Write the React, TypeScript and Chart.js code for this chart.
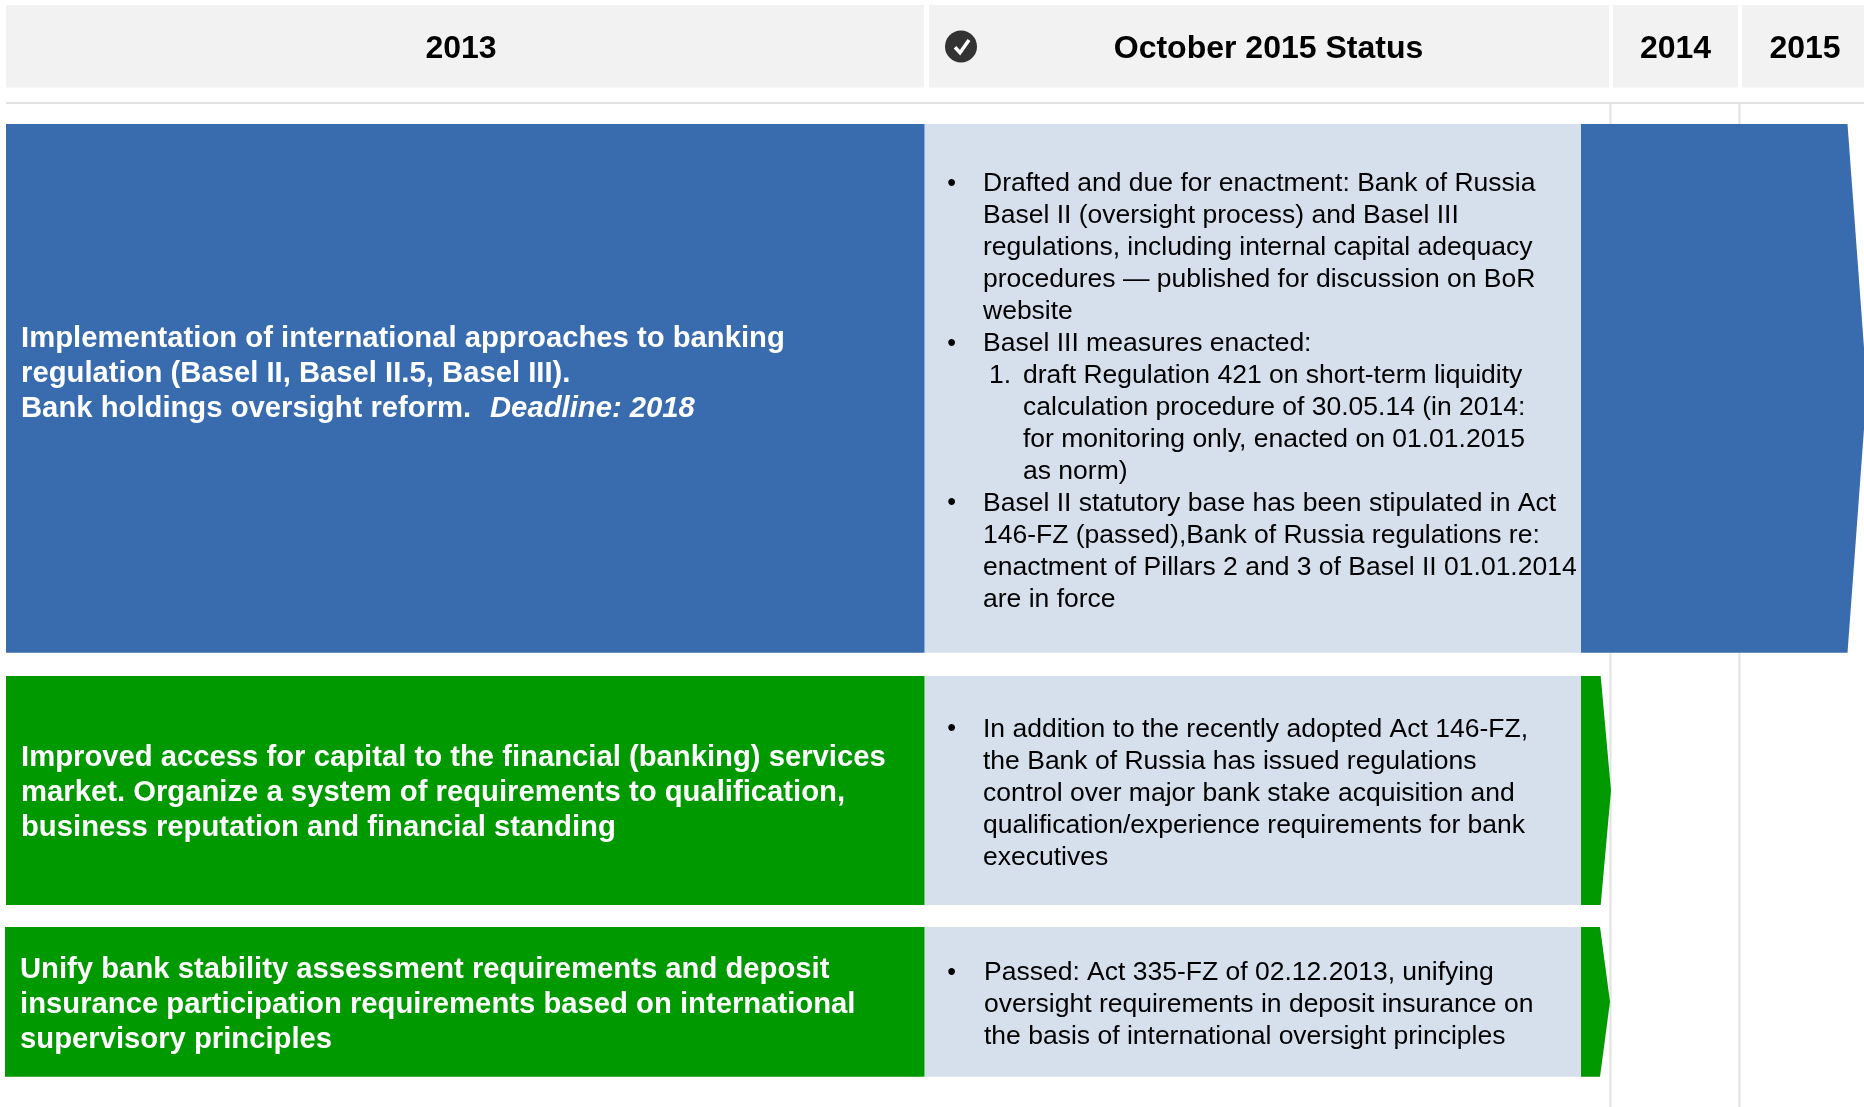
import React, { useEffect, useRef } from "react";
import { Chart, registerables } from "chart.js";

Chart.register(...registerables);

const WIDTH = 1864;
const HEIGHT = 1107;
const FONT = '"Liberation Sans", Arial, sans-serif';

// ---- Header labels and where they sit on the timeline axis
const columnLabels = ["2013", "October 2015 Status", "2014", "2015"];
const columnCenters = [461, 1268.5, 1675.5, 1805];
const headerStarts = [6, 929, 1613, 1742];
const headerEnds = [924, 1609, 1738, 1864];
const headerTop = 5;
const headerBottom = 87.5;

// ---- Rows: 2013 phase, status phase, then the chevron to the end of the plan
const rowTops = [124, 676, 927];
const rowBottoms = [652.7, 905, 1076.7];
const phase2013Starts = [6, 6, 5];
const phase2013Ends = [924.5, 924.5, 924.5];
const statusEnds = [1581, 1581, 1581];
const chevronShoulders = [1847.5, 1600.7, 1600];
const chevronTips = [1867, 1611, 1610];
const rowColors = ["#396CAE", "#009900", "#009900"];

// ---- Rules
const ruleY = 103;
const ruleStart = 6;
const yearDividers = [1610.5, 1739.5];
const checkMark = [
  [955, 47.3],
  [960, 52.7],
  [969, 40],
];
const checkCenter = [961, 46.5];

// ---- Text
const goalTexts = [
  [
    "Implementation of international approaches to banking",
    "regulation (Basel II, Basel II.5, Basel III).",
    "Bank holdings oversight reform.",
  ],
  [
    "Improved access for capital to the financial (banking) services",
    "market. Organize a system of requirements to qualification,",
    "business reputation and financial standing",
  ],
  [
    "Unify bank stability assessment requirements and deposit",
    "insurance participation requirements based on international",
    "supervisory principles",
  ],
];
const deadlineText = "Deadline: 2018";
const goalFirstLineY = [339, 757.5, 969.5];
const goalX = [21, 21, 20];

const statusTexts: [string, string][][] = [
  [
    ["b", "Drafted and due for enactment: Bank of Russia"],
    ["", "Basel II (oversight process) and Basel III"],
    ["", "regulations, including internal capital adequacy"],
    ["", "procedures \u2014 published for discussion on BoR"],
    ["", "website"],
    ["b", "Basel III measures enacted:"],
    ["n", "draft Regulation 421 on short-term liquidity"],
    ["s", "calculation procedure of 30.05.14 (in 2014:"],
    ["s", "for monitoring only, enacted on 01.01.2015"],
    ["s", "as norm)"],
    ["b", "Basel II statutory base has been stipulated in Act"],
    ["", "146-FZ (passed),Bank of Russia regulations re:"],
    ["", "enactment of Pillars 2 and 3 of Basel II 01.01.2014"],
    ["", "are in force"],
  ],
  [
    ["b", "In addition to the recently adopted Act 146-FZ,"],
    ["", "the Bank of Russia has issued regulations"],
    ["", "control over major bank stake acquisition and"],
    ["", "qualification/experience requirements for bank"],
    ["", "executives"],
  ],
  [
    ["b", "Passed: Act 335-FZ of 02.12.2013, unifying"],
    ["", "oversight requirements in deposit insurance on"],
    ["", "the basis of international oversight principles"],
  ],
];
const statusFirstLineY = [184, 729.5, 973];

const rect = (x0: number, x1: number, y0: number, y1: number) => [
  { x: x0, y: y0 },
  { x: x1, y: y0 },
  { x: x1, y: y1 },
  { x: x0, y: y1 },
];

const shape = (data: any[], color: string, order: number) => ({
  type: "line" as const,
  data,
  fill: "shape",
  backgroundColor: color,
  borderWidth: 0,
  pointRadius: 0,
  tension: 0,
  order,
  clip: false,
});

const stroke = (data: any[], color: string, width: number, order: number) => ({
  type: "line" as const,
  data,
  fill: false,
  borderColor: color,
  borderWidth: width,
  pointRadius: 0,
  tension: 0,
  order,
  clip: false,
});

const textPlugin = {
  id: "rowText",
  afterDatasetsDraw(chart: any) {
    const { ctx, scales } = chart;
    const px = (v: number) => scales.x.getPixelForValue(v);
    const py = (v: number) => scales.y.getPixelForValue(v);
    ctx.save();
    ctx.textBaseline = "middle";
    ctx.textAlign = "left";

    ctx.fillStyle = "#FFFFFF";
    goalTexts.forEach((lines, r) => {
      lines.forEach((line, i) => {
        ctx.font = `bold 29.25px ${FONT}`;
        const y = py(goalFirstLineY[r] + i * 35);
        ctx.fillText(line, px(goalX[r]), y);
        if (r === 0 && i === 2) {
          ctx.font = `italic bold 29.25px ${FONT}`;
          ctx.fillText(deadlineText, px(490), y);
        }
      });
    });

    ctx.fillStyle = "#000000";
    statusTexts.forEach((lines, r) => {
      lines.forEach(([kind, line], i) => {
        const y = py(statusFirstLineY[r] + i * 31.95);
        const offset = r === 2 ? 1 : 0;
        ctx.font = `25px ${FONT}`;
        if (kind === "b") ctx.fillText("\u2022", px(947.3), y);
        ctx.font = `26.5px ${FONT}`;
        if (kind === "n") ctx.fillText("1.", px(989), y);
        const x = kind === "n" || kind === "s" ? 1023 : 983 + offset;
        ctx.fillText(line, px(x), y);
      });
    });
    ctx.restore();
  },
};

export default function App() {
  const ref = useRef<HTMLCanvasElement | null>(null);

  useEffect(() => {
    if (!ref.current) return;
    const datasets: any[] = [];

    columnLabels.forEach((_, i) => {
      datasets.push(shape(rect(headerStarts[i], headerEnds[i], headerTop, headerBottom), "#F2F2F2", 40));
    });
    datasets.push(stroke([{ x: ruleStart, y: ruleY }, { x: WIDTH, y: ruleY }], "#E2E2E2", 2, 35));
    yearDividers.forEach((x) => {
      datasets.push(stroke([{ x, y: ruleY }, { x, y: HEIGHT }], "#E2E2E2", 2, 35));
    });

    rowTops.forEach((top, r) => {
      const bottom = rowBottoms[r];
      const mid = (top + bottom) / 2;
      datasets.push(shape(rect(phase2013Starts[r], phase2013Ends[r], top, bottom), rowColors[r], 20));
      datasets.push(shape(rect(phase2013Ends[r], statusEnds[r], top, bottom), "#D6E0ED", 20));
      datasets.push(
        shape(
          [
            { x: statusEnds[r], y: top },
            { x: chevronShoulders[r], y: top },
            { x: chevronTips[r], y: mid },
            { x: chevronShoulders[r], y: bottom },
            { x: statusEnds[r], y: bottom },
          ],
          rowColors[r],
          20
        )
      );
    });

    datasets.push(stroke(checkMark.map(([x, y]) => ({ x, y })), "#FFFFFF", 3.5, 5));
    datasets.push({
      type: "scatter",
      data: [{ x: checkCenter[0], y: checkCenter[1] }],
      backgroundColor: "#333333",
      borderWidth: 0,
      pointRadius: 16,
      order: 10,
      clip: false,
    });

    const chart = new Chart(ref.current, {
      type: "line",
      data: { datasets },
      plugins: [textPlugin],
      options: {
        animation: false,
        responsive: false,
        layout: { padding: 0, autoPadding: false },
        plugins: { legend: { display: false }, tooltip: { enabled: false }, title: { display: false } },
        scales: {
          x: {
            type: "linear",
            min: 0,
            max: WIDTH,
            position: { y: 29.5 } as any,
            grid: { display: false, drawTicks: false },
            border: { display: false },
            afterBuildTicks: (scale: any) => {
              scale.ticks = columnCenters.map((value) => ({ value }));
            },
            ticks: {
              z: 1,
              autoSkip: false,
              maxRotation: 0,
              padding: 0,
              color: "#000000",
              font: { family: FONT, size: 32, weight: "bold" },
              callback: (_v: any, i: number) => columnLabels[i],
            },
          },
          y: {
            type: "linear",
            display: false,
            min: 0,
            max: HEIGHT,
            reverse: true,
          },
        },
      } as any,
    });
    return () => chart.destroy();
  }, []);

  return (
    <div style={{ position: "fixed", left: 0, top: 0, width: WIDTH, height: HEIGHT, background: "#FFFFFF" }}>
      <canvas ref={ref} width={WIDTH} height={HEIGHT} style={{ display: "block" }} />
    </div>
  );
}
